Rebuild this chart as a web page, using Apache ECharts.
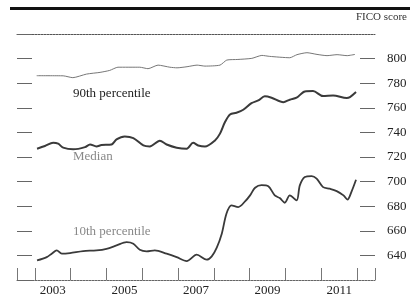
<!DOCTYPE html>
<html>
<head>
	<meta charset="utf-8">
	<title>FICO score percentiles</title>
	<script src="https://cdnjs.cloudflare.com/ajax/libs/echarts/6.0.0/echarts.min.js"></script>
	<style>
		html, body { margin: 0; padding: 0; background: #fff; }
	</style>
</head>
<body>
	<div id="main" style="width: 410px; height: 298px"></div>
	<script type="text/javascript">
		// x values are decimal years
		var p90Years = [2003.05, 2003.79, 2004.06, 2004.44, 2004.82, 2005.09, 2005.32, 2005.93, 2006.16, 2006.44,
			2006.77, 2006.97, 2007.25, 2007.53, 2007.75, 2008.17, 2008.36, 2008.67, 2009.06, 2009.34,
			2009.56, 2010.12, 2010.32, 2010.60, 2010.88, 2011.16, 2011.44, 2011.72, 2011.94];
		var p90Values = [786.1, 786.0, 784.5, 787.4, 788.8, 790.4, 793.0, 793.0, 791.8, 794.7,
			793.0, 792.5, 793.4, 794.7, 793.9, 794.7, 798.8, 799.3, 800.2, 802.6,
			801.8, 800.7, 803.2, 804.8, 803.4, 802.4, 803.2, 802.4, 803.4];

		var medianYears = [2003.06, 2003.28, 2003.51, 2003.65, 2003.79, 2004.07, 2004.40, 2004.54, 2004.72, 2004.86,
			2005.14, 2005.28, 2005.51, 2005.75, 2006.03, 2006.21, 2006.49, 2006.68, 2006.96, 2007.24,
			2007.42, 2007.56, 2007.75, 2008.03, 2008.17, 2008.31, 2008.45, 2008.63, 2008.82, 2009.05,
			2009.24, 2009.42, 2009.61, 2009.94, 2010.12, 2010.31, 2010.54, 2010.77, 2011.05, 2011.33,
			2011.71, 2011.80, 2011.97];
		var medianValues = [726.7, 728.9, 731.6, 730.8, 727.6, 726.2, 728.0, 730.2, 728.6, 729.7,
			730.2, 734.3, 736.7, 735.4, 729.4, 728.6, 733.2, 730.2, 727.6, 726.7,
			731.5, 729.4, 728.5, 733.5, 739.0, 748.4, 754.6, 756.0, 758.4, 763.8,
			766.0, 769.3, 768.2, 764.6, 766.6, 768.2, 773.3, 773.6, 769.5, 770.1,
			767.9, 768.7, 772.9];

		var p10Years = [2003.06, 2003.33, 2003.47, 2003.61, 2003.75, 2003.98, 2004.35, 2004.72, 2005.00, 2005.28,
			2005.56, 2005.75, 2005.93, 2006.12, 2006.35, 2006.68, 2006.96, 2007.24, 2007.52, 2007.80,
			2007.94, 2008.08, 2008.22, 2008.35, 2008.49, 2008.68, 2008.87, 2009.01, 2009.15, 2009.33,
			2009.52, 2009.70, 2009.84, 2009.98, 2010.12, 2010.31, 2010.40, 2010.54, 2010.73, 2010.87,
			2011.05, 2011.24, 2011.43, 2011.62, 2011.73, 2011.85, 2011.97];
		var p10Values = [635.9, 638.6, 641.4, 644.1, 641.4, 641.9, 643.5, 644.1, 645.4, 648.1,
			650.8, 649.5, 644.6, 643.3, 644.1, 641.4, 638.6, 635.4, 640.6, 636.5,
			639.2, 646.3, 657.6, 673.9, 680.7, 679.3, 683.9, 688.8, 695.0, 697.2,
			696.3, 688.8, 686.6, 682.8, 688.8, 684.7, 696.9, 703.7, 704.5, 702.4,
			695.5, 694.2, 692.3, 688.8, 685.3, 692.3, 701.5];

		var yearTicks = [2002.5, 2003, 2004, 2005, 2006, 2007, 2008, 2009, 2010, 2011, 2012, 2012.5];
		var yearLabels = [2003.5, 2005.5, 2007.5, 2009.5, 2011.5];

		function zip(xs, ys) {
			return xs.map(function (x, i) { return [x, ys[i]]; });
		}

		var serif = 'Liberation Serif';
		var myChart = echarts.init(document.getElementById('main'));

		option = {
			backgroundColor: '#fff',
			animation: false,
			textStyle: { fontFamily: serif },
			grid: { left: 17, right: 35, top: 34, bottom: 18 },
			graphic: [
				{ type: 'rect', shape: { x: 10, y: 7, width: 400, height: 3 }, style: { fill: '#111' } },
				{ type: 'text', right: 3, top: 12, style: { text: 'FICO score', font: '11px "Liberation Serif"', fill: '#333' } },
				{ type: 'text', left: 73, top: 87, style: { text: '90th percentile', font: '13px "Liberation Serif"', fill: '#222' } },
				{ type: 'text', left: 73, top: 150, style: { text: 'Median', font: '13px "Liberation Serif"', fill: '#888' } },
				{ type: 'text', left: 73, top: 225, style: { text: '10th percentile', font: '13px "Liberation Serif"', fill: '#888' } }
			],
			xAxis: [{
				type: 'value',
				min: 2002.5,
				max: 2012.5,
				splitLine: { show: false },
				axisLine: { show: true, lineStyle: { color: '#666', width: 1, type: [2, 1] } },
				axisTick: {
					show: true,
					inside: true,
					length: 12,
					customValues: yearTicks,
					lineStyle: { color: '#777', width: 1 }
				},
				axisLabel: {
					customValues: yearLabels,
					margin: 4,
					color: '#222',
					fontSize: 13,
					fontFamily: serif,
					formatter: function (v) { return String(Math.floor(v)); }
				}
			}, {
				type: 'value',
				position: 'top',
				min: 2002.5,
				max: 2012.5,
				splitLine: { show: false },
				axisLine: { show: true, lineStyle: { color: '#555', width: 1, type: [2, 1] } },
				axisTick: { show: false },
				axisLabel: { show: false }
			}],
			yAxis: [{
				type: 'value',
				position: 'right',
				min: 620,
				max: 820,
				interval: 20,
				splitLine: { show: false },
				axisLine: { show: false },
				axisTick: { show: true, inside: true, length: 15, lineStyle: { color: '#666', width: 1 } },
				axisLabel: {
					margin: 12,
					color: '#222',
					fontSize: 13,
					fontFamily: serif,
					showMinLabel: false,
					showMaxLabel: false
				}
			}, {
				type: 'value',
				position: 'left',
				min: 620,
				max: 820,
				interval: 20,
				splitLine: { show: false },
				axisLine: { show: false },
				axisTick: { show: true, inside: true, length: 15, lineStyle: { color: '#666', width: 1 } },
				axisLabel: { show: false }
			}],
			series: [{
				name: '90th percentile',
				type: 'line',
				data: zip(p90Years, p90Values),
				showSymbol: false,
				smooth: 0.2,
				lineStyle: { color: '#777', width: 1 }
			}, {
				name: 'Median',
				type: 'line',
				data: zip(medianYears, medianValues),
				showSymbol: false,
				smooth: 0.3,
				lineStyle: { color: '#3a3a3a', width: 2 }
			}, {
				name: '10th percentile',
				type: 'line',
				data: zip(p10Years, p10Values),
				showSymbol: false,
				smooth: 0.3,
				lineStyle: { color: '#3a3a3a', width: 1.8 }
			}]
		};
		myChart.setOption(option);
	</script>
</body>
</html>
